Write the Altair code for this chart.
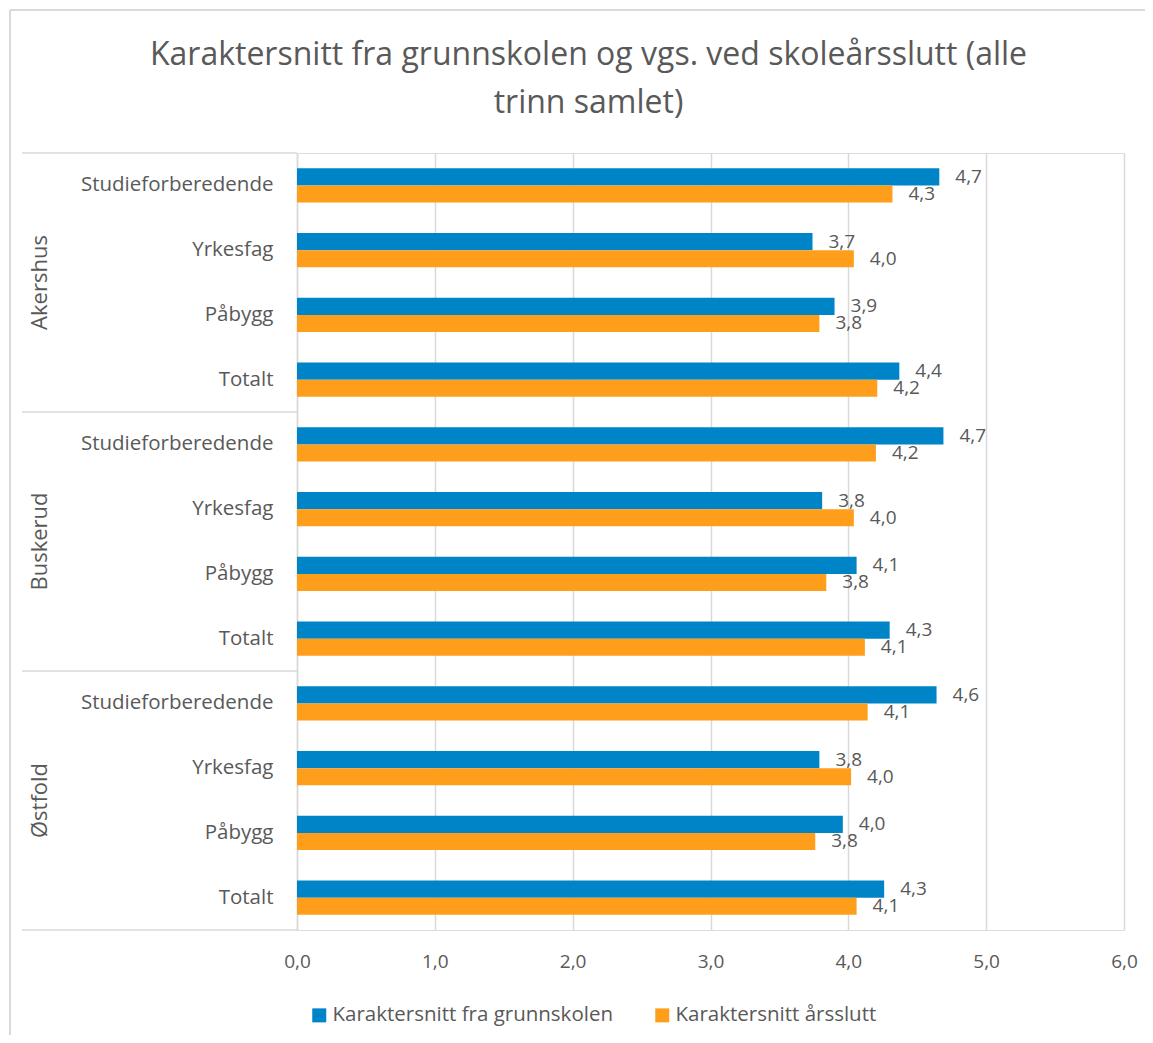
import altair as alt
import pandas as pd

FONT = "Open Sans"
TEXT = "#595959"
GRID = "#d9d9d9"

title_lines = ["Karaktersnitt fra grunnskolen og vgs. ved skoleårsslutt (alle", "trinn samlet)"]
groups = ["Akershus", "Buskerud", "Østfold"]
categories = ["Studieforberedende", "Yrkesfag", "Påbygg", "Totalt"]
series = ["Karaktersnitt fra grunnskolen", "Karaktersnitt årsslutt"]
colors = ["#0084C8", "#FF9E1B"]

grunnskolen = {
    "Akershus": [4.66, 3.74, 3.90, 4.37],
    "Buskerud": [4.69, 3.81, 4.06, 4.30],
    "Østfold": [4.64, 3.79, 3.96, 4.26],
}
arsslutt = {
    "Akershus": [4.32, 4.04, 3.79, 4.21],
    "Buskerud": [4.20, 4.04, 3.84, 4.12],
    "Østfold": [4.14, 4.02, 3.76, 4.06],
}
x_ticks = [0, 1, 2, 3, 4, 5, 6]

rows = []
for g in groups:
    for i, c in enumerate(categories):
        key = g + "|" + c
        rows.append(dict(group=g, cat=c, key=key, series=series[0], value=grunnskolen[g][i]))
        rows.append(dict(group=g, cat=c, key=key, series=series[1], value=arsslutt[g][i]))
df = pd.DataFrame(rows)
y_domain = [g + "|" + c for g in groups for c in categories]

df_groups = pd.DataFrame({"group": groups, "key": [g + "|" + categories[2] for g in groups]})
df_div_top = pd.DataFrame({"key": [g + "|" + categories[0] for g in groups]})
df_div_bot = pd.DataFrame({"key": [groups[-1] + "|" + categories[-1]]})
df_frame = pd.DataFrame({"k": [0]})

yscale = alt.Scale(domain=y_domain, paddingInner=0, paddingOuter=0)
xscale = alt.Scale(domain=[0, 6], nice=False)

y_enc = alt.Y(
    "key:N",
    scale=yscale,
    axis=alt.Axis(
        title=None,
        labelExpr="split(datum.value, '|')[1]",
        ticks=False,
        domain=True,
        domainColor=GRID,
        domainWidth=1.5,
        grid=False,
        labelFontSize=20.5,
        labelColor=TEXT,
        labelFont=FONT,
        labelPadding=24,
        labelLimit=300,
    ),
)
x_enc = alt.X(
    "value:Q",
    scale=xscale,
    axis=alt.Axis(
        values=x_ticks,
        labelExpr="replace(format(datum.value, '.1f'), '.', ',')",
        title=None,
        domain=False,
        ticks=False,
        grid=True,
        gridColor=GRID,
        gridWidth=1.5,
        labelPadding=22,
        labelFontSize=19,
        labelColor=TEXT,
        labelFont=FONT,
        labelFlush=False,
    ),
)
yoff = alt.YOffset("series:N", scale=alt.Scale(domain=series, paddingOuter=0.9, paddingInner=0))
color = alt.Color(
    "series:N",
    scale=alt.Scale(domain=series, range=colors),
    legend=alt.Legend(
        title=None,
        orient="none",
        legendX=12,
        legendY=852,
        direction="horizontal",
        symbolType="square",
        symbolSize=196,
        symbolStrokeWidth=0,
        labelFontSize=20.5,
        labelColor=TEXT,
        labelFont=FONT,
        columnPadding=39,
        labelOffset=3,
        labelLimit=400,
    ),
)

frame_top = (
    alt.Chart(df_frame)
    .mark_rule(stroke=GRID, strokeWidth=2)
    .encode(x=alt.value(-287), x2=alt.value(870), y=alt.value(-143))
)
frame_left = (
    alt.Chart(df_frame)
    .mark_rule(stroke=GRID, strokeWidth=2)
    .encode(x=alt.value(-287), y=alt.value(-143), y2=alt.value(900))
)

bars = alt.Chart(df).mark_bar().encode(x=x_enc, y=y_enc, yOffset=yoff, color=color)

labels = (
    alt.Chart(df)
    .transform_calculate(lbl="replace(format(datum.value, '.1f'), '.', ',')")
    .mark_text(align="left", baseline="middle", dx=16, fontSize=19, color=TEXT, font=FONT)
    .encode(x="value:Q", y=alt.Y("key:N"), yOffset=alt.YOffset("series:N"), text="lbl:N")
)

group_labels = (
    alt.Chart(df_groups)
    .mark_text(angle=270, align="center", baseline="middle", fontSize=22, color=TEXT, font=FONT)
    .encode(x=alt.value(-257), y=alt.Y("key:N", bandPosition=0), text="group:N")
)

div_top = (
    alt.Chart(df_div_top)
    .mark_rule(color=GRID, strokeWidth=1.5)
    .encode(x=alt.value(-275), x2=alt.value(0), y=alt.Y("key:N", bandPosition=0))
)
div_bot = (
    alt.Chart(df_div_bot)
    .mark_rule(color=GRID, strokeWidth=1.5)
    .encode(x=alt.value(-275), x2=alt.value(0), y=alt.Y("key:N", bandPosition=1))
)

chart = (
    alt.layer(frame_top, frame_left, bars, labels, group_labels, div_top, div_bot)
    .properties(
        width=827,
        height=777,
        title=alt.TitleParams(
            text=title_lines,
            fontSize=32,
            font=FONT,
            fontWeight="normal",
            color=TEXT,
            anchor="middle",
            frame="group",
            dx=-122,
            dy=144,
            offset=33,
            lineHeight=48,
        ),
        autosize=alt.AutoSizeParams(type="none"),
        padding={"left": 289, "top": 145, "right": 21, "bottom": 105},
    )
    .configure_view(stroke=None)
    .configure(background="white")
)

chart.save("out.html", embed_options={"renderer": "svg", "actions": False})
